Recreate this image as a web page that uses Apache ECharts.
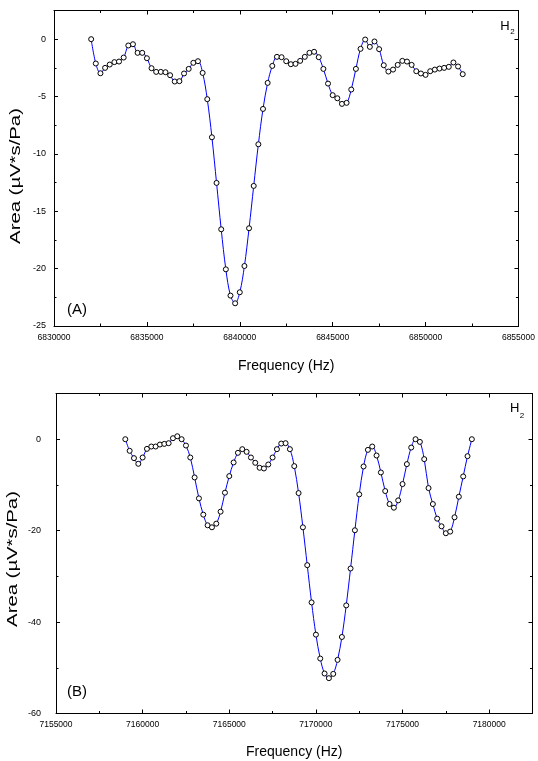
<!DOCTYPE html>
<html>
<head>
<meta charset="utf-8">
<script src="https://cdn.jsdelivr.net/npm/echarts@6/dist/echarts.min.js"></script>
<style>
html,body{margin:0;padding:0;background:#fff;}
#chart{width:538px;height:761px;}
</style>
</head>
<body>
<div id="chart"></div>
<script>
// Panel A data
const freqA = [6832000,6832250,6832500,6832750,6833000,6833250,6833500,6833750,6834000,6834250,
6834500,6834750,6835000,6835250,6835500,6835750,6836000,6836250,6836500,6836750,
6837000,6837250,6837500,6837750,6838000,6838250,6838500,6838750,6839000,6839250,
6839500,6839750,6840000,6840250,6840500,6840750,6841000,6841250,6841500,6841750,
6842000,6842250,6842500,6842750,6843000,6843250,6843500,6843750,6844000,6844250,
6844500,6844750,6845000,6845250,6845500,6845750,6846000,6846250,6846500,6846750,
6847000,6847250,6847500,6847750,6848000,6848250,6848500,6848750,6849000,6849250,
6849500,6849750,6850000,6850250,6850500,6850750,6851000,6851250,6851500,6851750,6852000];
const areaA = [0,-2.12,-2.97,-2.5,-2.21,-2.0,-1.95,-1.6,-0.55,-0.44,
-1.19,-1.19,-1.66,-2.53,-2.85,-2.85,-2.88,-3.14,-3.69,-3.66,
-2.99,-2.59,-2.06,-1.92,-2.94,-5.23,-8.55,-12.53,-16.57,-20.06,
-22.35,-23.02,-22.06,-19.77,-16.48,-12.79,-9.16,-6.08,-3.81,-2.33,
-1.54,-1.57,-1.92,-2.18,-2.15,-1.89,-1.54,-1.19,-1.10,-1.57,
-2.59,-3.87,-4.88,-5.15,-5.64,-5.55,-4.39,-2.59,-0.84,-0.03,
-0.67,-0.2,-0.87,-2.27,-2.82,-2.65,-2.24,-1.89,-1.95,-2.24,
-2.79,-2.99,-3.11,-2.79,-2.65,-2.56,-2.5,-2.41,-2.03,-2.38,-3.05];

// Panel B data
const freqB = [7159000,7159250,7159500,7159750,7160000,7160250,7160500,7160750,7161000,7161250,
7161500,7161750,7162000,7162250,7162500,7162750,7163000,7163250,7163500,7163750,
7164000,7164250,7164500,7164750,7165000,7165250,7165500,7165750,7166000,7166250,
7166500,7166750,7167000,7167250,7167500,7167750,7168000,7168250,7168500,7168750,
7169000,7169250,7169500,7169750,7170000,7170250,7170500,7170750,7171000,7171250,
7171500,7171750,7172000,7172250,7172500,7172750,7173000,7173250,7173500,7173750,
7174000,7174250,7174500,7174750,7175000,7175250,7175500,7175750,7176000,7176250,
7176500,7176750,7177000,7177250,7177500,7177750,7178000,7178250,7178500,7178750,7179000];
const areaB = [0,-2.54,-4.14,-5.38,-4.0,-2.11,-1.6,-1.6,-1.16,-1.02,
-0.87,0.22,0.65,0,-1.38,-4.0,-8.36,-12.94,-16.5,-18.83,
-19.27,-18.47,-15.85,-11.7,-8.07,-5.09,-2.98,-2.18,-2.76,-4.0,
-5.16,-6.25,-6.4,-5.53,-4.0,-2.18,-0.95,-0.87,-2.18,-5.89,
-11.78,-19.27,-27.55,-35.7,-42.75,-47.98,-51.25,-52.27,-51.33,-48.27,
-43.26,-36.35,-28.28,-19.92,-12.07,-5.96,-2.33,-1.6,-3.56,-7.27,
-11.34,-14.18,-14.98,-13.38,-9.81,-5.45,-1.82,0,-0.58,-4.36,
-10.69,-14.18,-17.38,-19.05,-20.57,-20.21,-17.08,-12.58,-8.14,-3.71,0];

// Axis ranges and tick steps
const xRangeA = [6830000, 6855000], xMajorA = 5000, xMinorA = 2500;
const yRangeA = [-25, 2.5], yMajorA = 5, yMinorA = 2.5;
const xRangeB = [7155000, 7182500], xMajorB = 5000, xMinorB = 2500;
const yRangeB = [-60, 10], yMajorB = 20, yMinorB = 10;

const xTitle = 'Frequency (Hz)';
const yTitle = 'Area (\u00B5V*s/Pa)';
const panelLabels = ['(A)', '(B)'];
const speciesLabel = 'H';
const speciesSub = '2';

const FONT = '"Liberation Sans", Arial, sans-serif';
const BLACK = '#000';

function makeAxes(dim, gridIndex, range, major, minor, opts) {
  const isX = dim === 'x';
  const posMain = isX ? 'bottom' : 'left';
  const posMirror = isX ? 'top' : 'right';
  const base = {
    type: 'value', gridIndex: gridIndex, min: range[0], max: range[1],
    splitLine: {show: false}, minorTick: {show: false}, minorSplitLine: {show: false}
  };
  const main = Object.assign({}, base, {
    position: posMain, interval: major,
    axisLine: {show: true, onZero: false, lineStyle: {color: BLACK, width: 1}},
    axisTick: {show: true, inside: true, length: 4, lineStyle: {color: BLACK, width: 1}},
    axisLabel: {
      show: true, color: BLACK, fontFamily: FONT, fontSize: opts.fontSize, margin: opts.margin,
      showMaxLabel: opts.showMax,
      formatter: function (v) { return (Math.abs(v % major) < 1e-9) ? String(v) : ''; }
    }
  });
  if (opts.name) {
    main.name = opts.name;
    main.nameLocation = 'middle';
    main.nameGap = opts.nameGap;
    main.nameTextStyle = {color: BLACK, fontFamily: FONT, fontSize: 14};
  }
  const mkPlain = (pos, interval, len, line) => Object.assign({}, base, {
    position: pos, interval: interval,
    axisLine: {show: line, onZero: false, lineStyle: {color: BLACK, width: 1}},
    axisTick: {show: true, inside: true, length: len, lineStyle: {color: BLACK, width: 1}},
    axisLabel: {show: false}
  });
  return [main, mkPlain(posMain, minor, 2.5, false), mkPlain(posMirror, major, 4, true), mkPlain(posMirror, minor, 2.5, false)];
}

const xAxes = [].concat(
  makeAxes('x', 0, xRangeA, xMajorA, xMinorA, {fontSize: 8.5, margin: 7, showMax: true, name: xTitle, nameGap: 33}),
  makeAxes('x', 1, xRangeB, xMajorB, xMinorB, {fontSize: 8.5, margin: 7, showMax: false, name: xTitle, nameGap: 32})
);
const yAxes = [].concat(
  makeAxes('y', 0, yRangeA, yMajorA, yMinorA, {fontSize: 9, margin: 8, showMax: false}),
  makeAxes('y', 1, yRangeB, yMajorB, yMinorB, {fontSize: 9, margin: 15, showMax: false})
);

function lineSeries(freq, area, axisIdx) {
  return {
    type: 'line', xAxisIndex: axisIdx, yAxisIndex: axisIdx,
    data: freq.map((f, i) => [f, area[i]]),
    smooth: 0.35,
    symbol: 'circle', symbolSize: 5,
    itemStyle: {color: '#fff', borderColor: BLACK, borderWidth: 1},
    lineStyle: {color: '#0000ff', width: 1},
    emphasis: {disabled: true},
    z: 3
  };
}

function yTitleText(x, y) {
  return {
    type: 'text', x: x, y: y, rotation: Math.PI / 2, scaleX: 1.45, scaleY: 1,
    style: {text: yTitle, font: '14px ' + FONT, fill: BLACK, align: 'center', verticalAlign: 'middle'}
  };
}
function plainText(txt, x, y, size, align) {
  return {
    type: 'text', x: x, y: y,
    style: {text: txt, font: size + 'px ' + FONT, fill: BLACK, align: align, verticalAlign: 'middle'}
  };
}

const chart = echarts.init(document.getElementById('chart'), null, {renderer: 'canvas'});
chart.setOption({
  animation: false,
  backgroundColor: '#fff',
  grid: [
    {left: 54, top: 10.5, width: 469.5, height: 315.5, containLabel: false},
    {left: 56, top: 393.5, width: 476.5, height: 320, containLabel: false}
  ],
  xAxis: xAxes,
  yAxis: yAxes,
  series: [lineSeries(freqA, areaA, 0), lineSeries(freqB, areaB, 4)],
  graphic: [
    yTitleText(16.5, 176),
    yTitleText(13.5, 559),
    plainText(panelLabels[0], 67, 310, 15, 'left'),
    plainText(panelLabels[1], 67, 691.5, 15, 'left'),
    plainText(speciesLabel, 505, 26.7, 13, 'center'),
    plainText(speciesSub, 512.5, 31.5, 8, 'center'),
    plainText(speciesLabel, 514.7, 408.7, 13, 'center'),
    plainText(speciesSub, 522, 416, 8, 'center')
  ]
});
</script>
</body>
</html>
